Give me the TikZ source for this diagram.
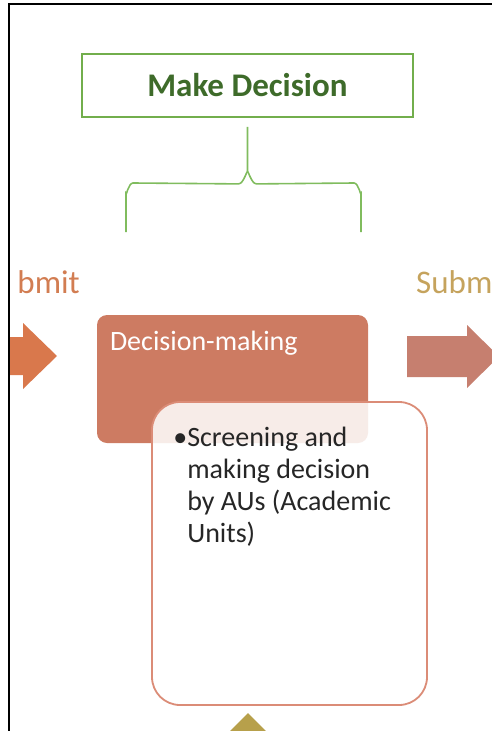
\documentclass[tikz,border=0pt]{standalone}
\usepackage{fontspec}
\setmainfont{Carlito}
\usetikzlibrary{positioning}
\definecolor{leafgreen}{HTML}{72AE4C}
\definecolor{bracegreen}{HTML}{80BC5E}
\definecolor{darkgreen}{HTML}{3E6B2A}
\definecolor{rust}{HTML}{CD7B62}
\definecolor{rustline}{HTML}{DB8C77}
\definecolor{orangearrow}{HTML}{D9784C}
\definecolor{orangetext}{HTML}{D27D52}
\definecolor{rosearrow}{HTML}{C67F6F}
\definecolor{goldtext}{HTML}{C5A35D}
\definecolor{goldarrow}{HTML}{B7A04B}
\definecolor{greytext}{HTML}{262626}
\begin{document}
\begin{tikzpicture}[x=1pt,y=-1pt,
    titlebox/.style={draw=leafgreen,line width=1.8pt,fill=white,
      minimum width=331pt,minimum height=63pt,inner sep=0pt,
      font=\fontsize{33}{36}\selectfont\bfseries,text=darkgreen},
    stagebox/.style={fill=rust,rounded corners=10pt,
      minimum width=271pt,minimum height=128pt,inner sep=0pt},
    detailbox/.style={draw=rustline,line width=1.8pt,fill=white,fill opacity=0.86,
      rounded corners=28pt,minimum width=275pt,minimum height=303pt,inner sep=0pt},
    steplabel/.style={font=\fontsize{33}{36}\selectfont,inner sep=0pt}]
  \clip (0,0) rectangle (492,731);

  % heading and brace
  \node[titlebox] (md) at (247.5,85.5) {Make Decision};
  \coordinate[below=9pt of md.south] (bt);
  \draw[bracegreen,line width=1.6pt]
    (bt) -- ++(0,46) to[out=90,in=0] ++(-9,11) -- (133,183)
    to[out=180,in=-90] (126,193) -- (126,232);
  \draw[bracegreen,line width=1.6pt]
    (bt) ++(0,46) to[out=90,in=180] ++(9,11) -- (354,183)
    to[out=0,in=-90] (361,193) -- (361,232);

  % side labels and arrows
  \node[steplabel,text=orangetext,anchor=base east] (prev) at (80,293) {bmit};
  \node[steplabel,text=goldtext,anchor=base west] (next) at (416,293) {Subm};
  \fill[orangearrow] (9,337) -- (23,337) -- (23,323) -- (57,356)
    -- (23,389) -- (23,375) -- (9,375) -- cycle;
  \fill[rosearrow] (407,336) -- (467,336) -- (467,325) -- (499,356.5)
    -- (467,388) -- (467,377) -- (407,377) -- cycle;

  % stage
  \node[stagebox] (dm) at (232.5,379) {};
  \node[anchor=base west,inner sep=0pt,text=white,
    font=\fontsize{28}{32}\selectfont] (dmtext)
    at ([xshift=13pt,yshift=-36pt]dm.north west) {Decision-making};
  \node[detailbox] (sc) at (289.5,553.5) {};
  \node[anchor=north west,inner sep=0pt,align=left,text=greytext,
    font=\fontsize{28}{32}\selectfont] (sctext)
    at ([xshift=36pt,yshift=-26pt]sc.north west)
    {\llap{•}Screening and\\making decision\\by AUs (Academic\\Units)};

  % next stage (cut off)
  \fill[goldarrow] (248,713) -- (272,737) -- (224,737) -- cycle;

  % frame
  \draw[line width=2pt] (8.5,731) -- (8.5,4) -- (492,4);
\end{tikzpicture}
\end{document}
